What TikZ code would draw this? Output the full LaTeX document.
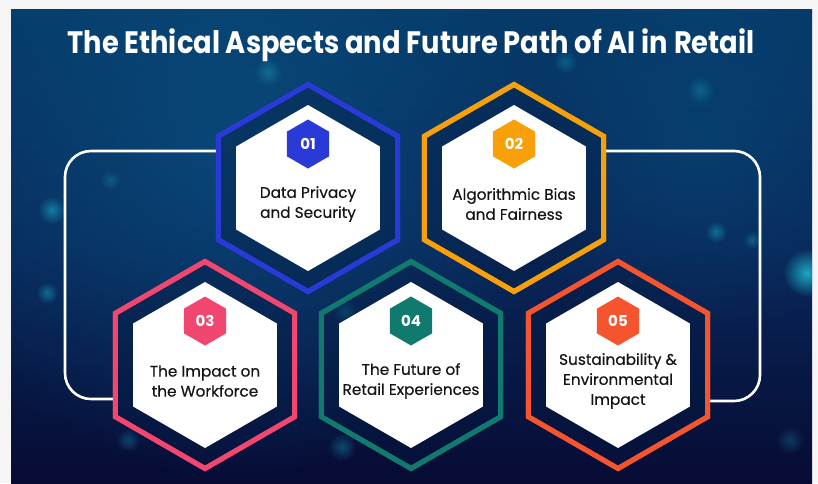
\documentclass[tikz,border=0pt]{standalone}
\usepackage{fontspec}
\setmainfont{Poppins}
\newfontfamily\medfont{Poppins}[FakeBold=0.35]
\usetikzlibrary{shapes.geometric,fadings,calc}
\definecolor{pagegray}{HTML}{F5F5F5}
\definecolor{bgtop}{HTML}{063A68}
\definecolor{bgmid}{HTML}{08285A}
\definecolor{bgbot}{HTML}{070B34}
\definecolor{glowc}{HTML}{1FB5D0}
\definecolor{glowb}{HTML}{0A5A8C}
\definecolor{ringfill}{HTML}{061A40}
\definecolor{cblue}{HTML}{2A3AD6}
\definecolor{corange}{HTML}{F7A00A}
\definecolor{cpink}{HTML}{F0466F}
\definecolor{cteal}{HTML}{107A6E}
\definecolor{cred}{HTML}{F4552E}
\definecolor{txt}{HTML}{141414}
\tikzfading[name=glowfade, inner color=transparent!0, outer color=transparent!100]
\tikzset{
  ring/.style={regular polygon, regular polygon sides=6, shape border rotate=30,
    minimum size=207pt, inner sep=0pt, outer sep=0pt, line width=5pt, draw=#1,
    fill=ringfill, fill opacity=0.35},
  whitehex/.style={regular polygon, regular polygon sides=6, shape border rotate=30,
    minimum size=166pt, inner sep=0pt, outer sep=0pt, fill=white},
  numhex/.style={regular polygon, regular polygon sides=6, shape border rotate=30,
    minimum size=49pt, inner sep=0pt, outer sep=0pt, fill=#1, text=white,
    font=\fontsize{15}{15}\selectfont\bfseries},
  label/.style={align=center, text=txt, inner sep=0pt,
    font=\medfont\fontsize{15.3}{20}\selectfont},
  conn/.style={draw=white, line width=2.6pt, rounded corners=26pt},
  glow/.style={fill=glowc, path fading=glowfade}
}
\begin{document}
\begin{tikzpicture}[x=1pt,y=-1pt]
\useasboundingbox (0,0) rectangle (818,483);
\fill[pagegray] (0,0) rectangle (818,483);
\shade[top color=bgtop, bottom color=bgbot, middle color=bgmid] (11,9) rectangle (812,483);
% soft background light
\begin{scope}
\clip (11,9) rectangle (812,483);
\fill[glowb, path fading=glowfade, fill opacity=0.55] (230,150) circle (330);
\fill[glowb, path fading=glowfade, fill opacity=0.35] (700,140) circle (200);
\fill[glow, fill opacity=0.55] (52,210) circle (14);
\fill[glow, fill opacity=0.45] (47,293) circle (11);
\fill[glow, fill opacity=0.9] (807,273) circle (24);
\fill[glow, fill opacity=0.45] (716,232) circle (11);
\fill[glow, fill opacity=0.35] (752,240) circle (9);
\fill[glow, fill opacity=0.35] (268,72) circle (14);
\fill[glow, fill opacity=0.3] (565,62) circle (12);
\fill[glow, fill opacity=0.3] (700,90) circle (14);
\fill[glow, fill opacity=0.35] (342,447) circle (14);
\fill[glow, fill opacity=0.3] (128,440) circle (12);
\fill[glow, fill opacity=0.25] (790,440) circle (14);
\fill[glow, fill opacity=0.3] (345,312) circle (12);
\fill[glow, fill opacity=0.25] (110,180) circle (10);
\end{scope}
% title
\node (title) at (411,45) {\color{white}\resizebox{687pt}{\height}{\fontsize{31}{31}\selectfont\bfseries The Ethical Aspects and Future Path of AI in Retail}};
% loop connector coordinates
\coordinate (lx) at (65,275);
\coordinate (rx) at (760,275);
% hexagons
\foreach \n/\x/\y/\c/\t in {
  1/308/188/cblue/{Data Privacy\\and Security},
  2/514/188/corange/{Algorithmic Bias\\and Fairness},
  3/205/365/cpink/{The Impact on\\the Workforce},
  4/411/365/cteal/{The Future of\\Retail Experiences},
  5/618/365/cred/{Sustainability \&\\Environmental\\Impact}}{
  \node[ring=\c] (o\n) at (\x,\y) {};
}
\draw[conn] ([yshift=37pt]o1.west) -| (lx) |- ([yshift=-34pt]o3.west);
\draw[conn] ([yshift=37pt]o2.east) -| (rx) |- ([yshift=-36pt]o5.east);
\foreach \n/\x/\y/\c/\t in {
  1/308/188/cblue/{Data Privacy\\and Security},
  2/514/188/corange/{Algorithmic Bias\\and Fairness},
  3/205/365/cpink/{The Impact on\\the Workforce},
  4/411/365/cteal/{The Future of\\Retail Experiences},
  5/618/365/cred/{Sustainability \&\\Environmental\\Impact}}{
  \draw[\c, line width=5pt] (o\n.corner 1) -- (o\n.corner 2) -- (o\n.corner 3) -- (o\n.corner 4) -- (o\n.corner 5) -- (o\n.corner 6) -- cycle;
  \node[whitehex] (w\n) at (o\n) {};
  \node[numhex=\c] (n\n) at ($(o\n)+(0,-44)$) {0\n};
  \node[label] (t\n) at ($(o\n)+(0,16)$) {\t};
}
\end{tikzpicture}
\end{document}
